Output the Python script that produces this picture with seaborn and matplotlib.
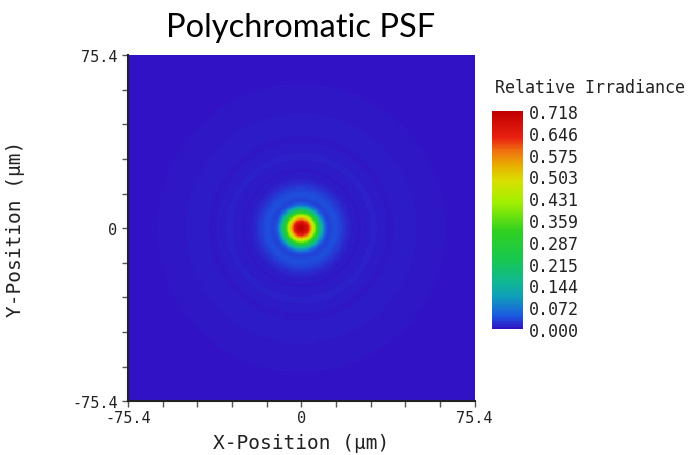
import numpy as np
import pandas as pd
import matplotlib.pyplot as plt
import seaborn as sns
from matplotlib.colors import LinearSegmentedColormap

# --- data ---
EXTENT = 75.4  # half-width of the window, um
# radial profile of the PSF (radius in um -> relative irradiance)
radius_um = [0, 1, 2, 3, 4, 5, 6, 7, 8, 9, 10, 11, 12, 13, 14, 15, 16, 18, 20, 22,
             25, 28, 31, 34, 38, 42, 46, 52, 60, 75, 110]
irradiance = [0.718, 0.710, 0.685, 0.640, 0.570, 0.480, 0.385, 0.290, 0.200, 0.125,
              0.070, 0.040, 0.030, 0.032, 0.036, 0.037, 0.034, 0.024, 0.014, 0.008,
              0.005, 0.007, 0.009, 0.008, 0.005, 0.006, 0.007, 0.005, 0.003, 0.002, 0.001]
cbar_labels = ['0.000', '0.072', '0.144', '0.215', '0.287', '0.359',
               '0.431', '0.503', '0.575', '0.646', '0.718']
axis_ticks = [-75.4, 0, 75.4]

# Zemax-like colour scale
cmap_stops = [(0.00, '#3112c4'), (0.06, '#1a5ae0'), (0.15, '#10a0b8'), (0.22, '#10b890'),
              (0.32, '#18c850'), (0.45, '#30d020'), (0.58, '#a0f000'), (0.68, '#d8e000'),
              (0.75, '#e8b000'), (0.82, '#f07010'), (0.88, '#e82010'), (1.00, '#c00000')]
psf_cmap = LinearSegmentedColormap.from_list('psf', cmap_stops)

# --- build the 2D map from the radial profile ---
N = 301
coords = np.linspace(-EXTENT, EXTENT, N)
xx, yy = np.meshgrid(coords, coords[::-1])
rr = np.sqrt(xx**2 + yy**2)
psf = np.interp(rr, radius_um, irradiance)
df = pd.DataFrame(psf, index=np.round(coords[::-1], 2), columns=np.round(coords, 2))

sns.set_theme(style='white')
plt.rcParams['font.family'] = ['DejaVu Sans Mono']

fig = plt.figure(figsize=(6.88, 4.56), dpi=100)
ax = fig.add_axes([0.186, 0.118, 0.504, 0.759])
cax = fig.add_axes([0.715, 0.276, 0.045, 0.478])

vmax = float(cbar_labels[-1])
sns.heatmap(df, ax=ax, cbar_ax=cax, cmap=psf_cmap, vmin=0, vmax=vmax,
            xticklabels=False, yticklabels=False, rasterized=True,
            cbar_kws={'ticks': [float(v) for v in cbar_labels]})

# axis ticks in heatmap cell coordinates
def to_cell(v):
    return (v + EXTENT) / (2 * EXTENT) * N

ax.set_xticks([to_cell(v) for v in axis_ticks])
ax.set_xticklabels(['-75.4', '0', '75.4'], fontsize=11)
ax.set_yticks([N - to_cell(v) for v in axis_ticks])
ax.set_yticklabels(['-75.4', '0', '75.4'], fontsize=11, rotation=0)
minor = [to_cell(-EXTENT + k * 2 * EXTENT / 10) for k in range(11)]
ax.set_xticks(minor, minor=True)
ax.set_yticks(minor, minor=True)
ax.tick_params(which='both', direction='out', length=4, width=1, color='#555555',
               bottom=True, left=True, labelcolor='#222222')
ax.tick_params(axis='x', pad=2)
for side in ['left', 'bottom']:
    ax.spines[side].set_visible(True)
    ax.spines[side].set_color('#222222')
    ax.spines[side].set_linewidth(1.5)

ax.set_xlabel('X-Position (\u03bcm)', fontsize=14, color='#222222', labelpad=6)
ax.set_ylabel('Y-Position (\u03bcm)', fontsize=14, color='#222222', labelpad=34)

cax.tick_params(length=0, labelsize=12, pad=4, labelcolor='#222222')
cax.set_yticklabels(cbar_labels)
cbar = ax.collections[0].colorbar
cbar.outline.set_visible(False)
fig.text(0.720, 0.797, 'Relative Irradiance', fontsize=12, color='#222222')

fig.text(0.437, 0.918, 'Polychromatic PSF', fontsize=23.5, ha='center',
         family=['Lato', 'DejaVu Sans'], color='black')

fig.savefig('out.png', dpi=100)
